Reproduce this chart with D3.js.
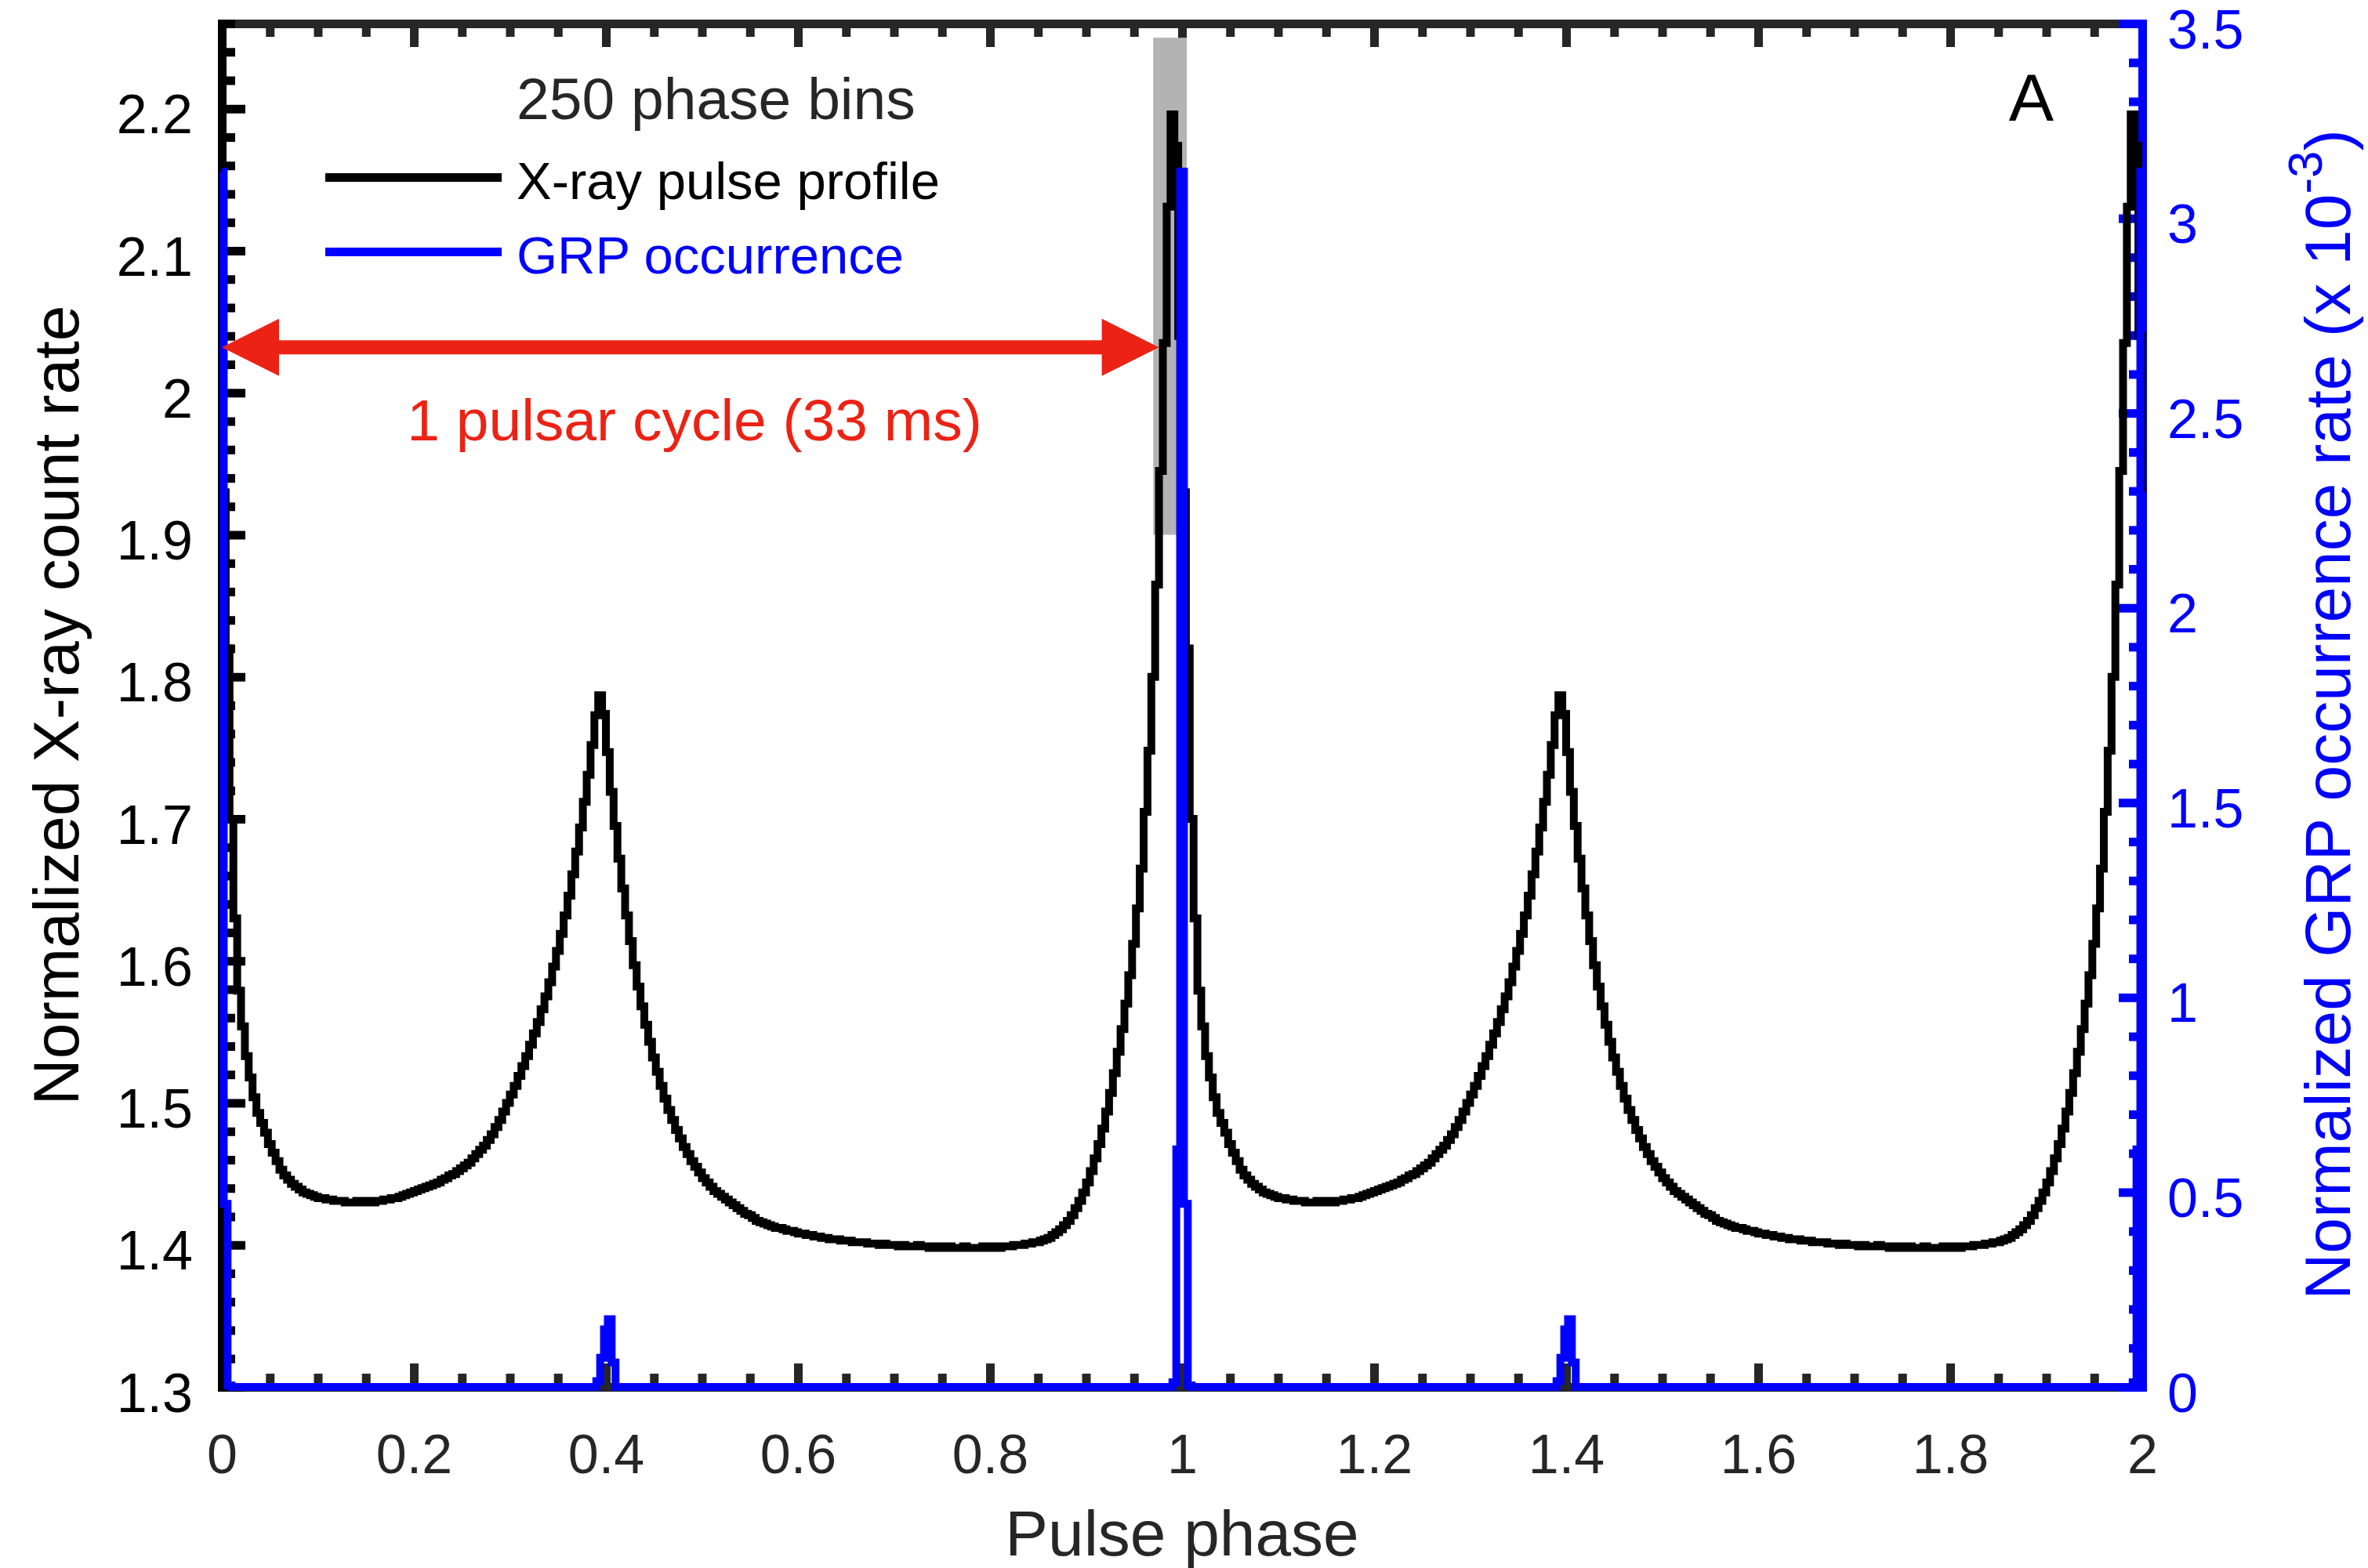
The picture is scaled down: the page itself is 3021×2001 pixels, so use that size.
<!DOCTYPE html>
<html><head><meta charset="utf-8">
<script src="https://cdn.jsdelivr.net/npm/d3@7"></script>
<style>
body{margin:0;background:#fff;}
svg{display:block;}
text{font-family:"Liberation Sans",Arial,Helvetica,sans-serif;}
</style>
</head><body>
<svg id="chart" width="3021" height="2001"></svg>
<script>
// ---------------- data ----------------
const binsPerCycle = 250;
const cycles = 2;
// Normalized X-ray count rate, bin k covers phase [k/250,(k+1)/250]
const xrayProfile = [
1.930,1.820,1.700,1.630,1.579,1.554,1.533,1.518,1.504,1.493,
1.486,1.479,1.471,1.465,1.459,1.453,1.449,1.446,1.443,1.441,
1.439,1.437,1.436,1.435,1.434,1.433,1.433,1.432,1.432,1.431,
1.431,1.431,1.430,1.430,1.430,1.431,1.430,1.430,1.431,1.430,
1.431,1.431,1.432,1.432,1.433,1.433,1.434,1.435,1.436,1.437,
1.438,1.439,1.440,1.441,1.442,1.443,1.444,1.446,1.447,1.449,
1.450,1.452,1.454,1.456,1.458,1.461,1.464,1.467,1.470,1.474,
1.478,1.483,1.488,1.494,1.500,1.506,1.512,1.519,1.526,1.533,
1.541,1.549,1.557,1.566,1.575,1.585,1.596,1.607,1.619,1.632,
1.646,1.661,1.677,1.694,1.712,1.731,1.752,1.773,1.787,1.774,
1.747,1.719,1.695,1.672,1.651,1.632,1.614,1.597,1.582,1.568,
1.555,1.543,1.532,1.522,1.512,1.503,1.495,1.488,1.481,1.475,
1.469,1.464,1.459,1.455,1.451,1.447,1.444,1.441,1.438,1.436,
1.434,1.432,1.430,1.428,1.426,1.424,1.422,1.421,1.419,1.417,
1.416,1.415,1.414,1.413,1.412,1.412,1.411,1.410,1.410,1.409,
1.408,1.408,1.407,1.407,1.406,1.406,1.405,1.405,1.404,1.404,
1.404,1.403,1.403,1.403,1.402,1.402,1.402,1.402,1.401,1.401,
1.401,1.400,1.401,1.400,1.400,1.400,1.399,1.400,1.399,1.399,
1.399,1.400,1.399,1.399,1.398,1.399,1.399,1.398,1.398,1.399,
1.398,1.398,1.398,1.399,1.398,1.398,1.398,1.398,1.399,1.398,
1.398,1.399,1.398,1.399,1.399,1.399,1.400,1.400,1.400,1.401,
1.401,1.402,1.402,1.403,1.404,1.405,1.407,1.409,1.411,1.414,
1.417,1.421,1.426,1.431,1.437,1.444,1.452,1.461,1.471,1.482,
1.494,1.507,1.521,1.536,1.552,1.570,1.590,1.612,1.637,1.665,
1.705,1.748,1.800,1.865,1.945,2.035,2.131,2.196,2.174,2.040
];
// Normalized GRP occurrence rate (x 1e-3), bin k centred on phase k/250
const grpOccurrence = [
3.120,0.470,0.004,0,0,0,0,0,0,0,
0,0,0,0,0,0,0,0,0,0,
0,0,0,0,0,0,0,0,0,0,
0,0,0,0,0,0,0,0,0,0,
0,0,0,0,0,0,0,0,0,0,
0,0,0,0,0,0,0,0,0,0,
0,0,0,0,0,0,0,0,0,0,
0,0,0,0,0,0,0,0,0,0,
0,0,0,0,0,0,0,0,0,0,
0,0,0,0,0,0,0,0,0.015,0.075,
0.148,0.174,0.063,0,0,0,0,0,0,0,
0,0,0,0,0,0,0,0,0,0,
0,0,0,0,0,0,0,0,0,0,
0,0,0,0,0,0,0,0,0,0,
0,0,0,0,0,0,0,0,0,0,
0,0,0,0,0,0,0,0,0,0,
0,0,0,0,0,0,0,0,0,0,
0,0,0,0,0,0,0,0,0,0,
0,0,0,0,0,0,0,0,0,0,
0,0,0,0,0,0,0,0,0,0,
0,0,0,0,0,0,0,0,0,0,
0,0,0,0,0,0,0,0,0,0,
0,0,0,0,0,0,0,0,0,0,
0,0,0,0,0,0,0,0,0,0,
0,0,0,0,0,0,0,0,0.012,0.610
];
const xDomain = [0, 2];
const yLeftDomain = [1.3, 2.26];
const yRightDomain = [0, 3.5];
const xTicks = [0,0.2,0.4,0.6,0.8,1,1.2,1.4,1.6,1.8,2];
const xTickLabels = ["0","0.2","0.4","0.6","0.8","1","1.2","1.4","1.6","1.8","2"];
const yLeftTicks = [1.3,1.4,1.5,1.6,1.7,1.8,1.9,2.0,2.1,2.2];
const yLeftTickLabels = ["1.3","1.4","1.5","1.6","1.7","1.8","1.9","2","2.1","2.2"];
const yRightTicks = [0,0.5,1,1.5,2,2.5,3,3.5];
const yRightTickLabels = ["0","0.5","1","1.5","2","2.5","3","3.5"];
const xMinorStep = 0.05, yLeftMinorStep = 0.02, yRightMinorStep = 0.1;
const legendTitle = "250 phase bins";
const seriesNames = ["X-ray pulse profile", "GRP occurrence"];
const highlightPhase = [0.970, 1.005];
const highlightLevel = [1.90, 2.25];
const arrowPhase = [0.0, 0.976];
const arrowLevel = 2.032;
const arrowText = "1 pulsar cycle (33 ms)";
const panelLabel = "A";
const xLabel = "Pulse phase";
const yLeftLabel = "Normalized X-ray count rate";
const yRightLabel = ["Normalized GRP occurrence rate (x 10", "-3", ")"];

// ---------------- layout / style ----------------
const svg = d3.select("#chart");
const P = {left:283, right:2733, top:30, bottom:1770};
const C = {black:"#000000", gray:"#262626", blue:"#0000ff", red:"#ec2214", box:"#b3b3b3"};
const AX_W = 11, LINE_W = 10, MAJ = 30, MIN = 17;
const TICK_FS = 70, LABEL_FS = 82;

const x = d3.scaleLinear().domain(xDomain).range([P.left, P.right]);
const yL = d3.scaleLinear().domain(yLeftDomain).range([P.bottom, P.top]);
const yR = d3.scaleLinear().domain(yRightDomain).range([P.bottom, P.top]);

function minorVals(domain, step, majors){
  const out=[]; const n=Math.round((domain[1]-domain[0])/step);
  for(let i=0;i<=n;i++){ const v=+(domain[0]+i*step).toFixed(6); if(v<=domain[1]+1e-9 && !majors.some(m=>Math.abs(m-v)<1e-9)) out.push(v); }
  return out;
}
function styleAxis(g,color){
  g.selectAll(".tick line").attr("stroke",color).attr("stroke-width",AX_W);
  g.select(".domain").attr("stroke",color).attr("stroke-width",AX_W).attr("stroke-linecap","square");
  g.selectAll("text").attr("fill",color).style("font-size",TICK_FS+"px").attr("font-family",null);
}

const axesG = svg.append("g");
// top axis
const gTop = axesG.append("g").attr("transform",`translate(0,${P.top})`)
  .call(d3.axisTop(x).tickValues(xTicks).tickSize(-MAJ).tickSizeOuter(0).tickFormat(""));
styleAxis(gTop,C.gray);
const gTopMin = axesG.append("g").attr("transform",`translate(0,${P.top})`)
  .call(d3.axisTop(x).tickValues(minorVals(xDomain,xMinorStep,xTicks)).tickSize(-MIN).tickSizeOuter(0).tickFormat(""));
styleAxis(gTopMin,C.gray); gTopMin.select(".domain").remove();
// bottom axis
const gBot = axesG.append("g").attr("transform",`translate(0,${P.bottom})`)
  .call(d3.axisBottom(x).tickValues(xTicks).tickSize(-MAJ).tickSizeOuter(0).tickFormat((d,i)=>xTickLabels[i]));
styleAxis(gBot,C.gray);
gBot.selectAll("text").attr("y",110).attr("dy",null);
const gBotMin = axesG.append("g").attr("transform",`translate(0,${P.bottom})`)
  .call(d3.axisBottom(x).tickValues(minorVals(xDomain,xMinorStep,xTicks)).tickSize(-MIN).tickSizeOuter(0).tickFormat(""));
styleAxis(gBotMin,C.gray); gBotMin.select(".domain").remove();
// left axis
const gLeft = axesG.append("g").attr("transform",`translate(${P.left},0)`)
  .call(d3.axisLeft(yL).tickValues(yLeftTicks).tickSize(-MAJ).tickSizeOuter(0).tickFormat((d,i)=>yLeftTickLabels[i]));
styleAxis(gLeft,C.black);
gLeft.selectAll("text").attr("x",-37).attr("dy",31);
const gLeftMin = axesG.append("g").attr("transform",`translate(${P.left},0)`)
  .call(d3.axisLeft(yL).tickValues(minorVals(yLeftDomain,yLeftMinorStep,yLeftTicks)).tickSize(-MIN).tickSizeOuter(0).tickFormat(""));
styleAxis(gLeftMin,C.black); gLeftMin.select(".domain").remove();
// right axis
const gRight = axesG.append("g").attr("transform",`translate(${P.right},0)`)
  .call(d3.axisRight(yR).tickValues(yRightTicks).tickSize(-MAJ).tickSizeOuter(0).tickFormat((d,i)=>yRightTickLabels[i]));
styleAxis(gRight,C.blue);
gRight.selectAll("text").attr("x",32).attr("dy",31);
const gRightMin = axesG.append("g").attr("transform",`translate(${P.right},0)`)
  .call(d3.axisRight(yR).tickValues(minorVals(yRightDomain,yRightMinorStep,yRightTicks)).tickSize(-MIN).tickSizeOuter(0).tickFormat(""));
styleAxis(gRightMin,C.blue); gRightMin.select(".domain").remove();

// highlight box
svg.append("rect")
  .attr("x",x(highlightPhase[0])).attr("width",x(highlightPhase[1])-x(highlightPhase[0]))
  .attr("y",yL(highlightLevel[1])).attr("height",yL(highlightLevel[0])-yL(highlightLevel[1]))
  .attr("fill",C.box);

// X-ray stairs
const xrayPts = [];
for(let c=0;c<cycles;c++) xrayProfile.forEach((v,k)=>xrayPts.push([c+k/binsPerCycle, v]));
xrayPts.push([cycles, xrayProfile[0]]);
svg.append("path").datum(xrayPts)
  .attr("d", d3.line().x(d=>x(d[0])).y(d=>yL(d[1])).curve(d3.curveStepAfter))
  .attr("fill","none").attr("stroke",C.black).attr("stroke-width",LINE_W).attr("stroke-linejoin","miter");

// GRP stairs (bins centred on k/250)
const grpPts = [[0, grpOccurrence[0]]];
for(let c=0;c<cycles;c++) grpOccurrence.forEach((v,k)=>{
  grpPts.push([c+(k+0.5)/binsPerCycle, grpOccurrence[(k+1)%binsPerCycle]]);
});
grpPts.push([cycles, grpOccurrence[0]]);
svg.append("path").datum(grpPts)
  .attr("d", d3.line().x(d=>x(d[0])).y(d=>yR(d[1])).curve(d3.curveStepAfter))
  .attr("fill","none").attr("stroke",C.blue).attr("stroke-width",LINE_W).attr("stroke-linejoin","miter");

// double arrow
const ay = yL(arrowLevel), ax0 = x(arrowPhase[0]), ax1 = x(arrowPhase[1]);
const headL = 73, headH = 36.5, shaftW = 18;
svg.append("rect").attr("x",ax0+headL-1).attr("y",ay-shaftW/2).attr("width",ax1-ax0-2*headL+2).attr("height",shaftW).attr("fill",C.red);
svg.append("path").attr("d",`M${ax0},${ay}L${ax0+headL},${ay-headH}L${ax0+headL},${ay+headH}Z`).attr("fill",C.red);
svg.append("path").attr("d",`M${ax1},${ay}L${ax1-headL},${ay-headH}L${ax1-headL},${ay+headH}Z`).attr("fill",C.red);
svg.append("text").attr("x",886).attr("y",ay+119).attr("text-anchor","middle")
  .attr("fill",C.red).style("font-size","75px").text(arrowText);

// legend
svg.append("text").attr("x",659).attr("y",152).attr("fill",C.gray).style("font-size","75px").text(legendTitle);
const legY = [226.5, 321.5], legCol = [C.black, C.blue];
seriesNames.forEach((s,i)=>{
  svg.append("line").attr("x1",415).attr("x2",640).attr("y1",legY[i]).attr("y2",legY[i])
    .attr("stroke",legCol[i]).attr("stroke-width",LINE_W+1);
  svg.append("text").attr("x",659).attr("y",legY[i]+27).attr("fill",legCol[i]).style("font-size","67px").text(s);
});

// panel label
svg.append("text").attr("x",2620).attr("y",154).attr("text-anchor","end").attr("fill",C.black)
  .style("font-size","86px").text(panelLabel);

// axis labels
svg.append("text").attr("x",(P.left+P.right)/2).attr("y",1985).attr("text-anchor","middle")
  .attr("fill",C.gray).style("font-size",LABEL_FS+"px").text(xLabel);
svg.append("text").attr("transform",`translate(100,${(P.top+P.bottom)/2}) rotate(-90)`)
  .attr("text-anchor","middle").attr("fill",C.black).style("font-size",LABEL_FS+"px").text(yLeftLabel);
const rl = svg.append("text").attr("transform",`translate(2998,912) rotate(-90)`)
  .attr("text-anchor","middle").attr("fill",C.blue).style("font-size",LABEL_FS+"px");
rl.append("tspan").text(yRightLabel[0]);
rl.append("tspan").attr("dy",-36).style("font-size","62px").text(yRightLabel[1]);
rl.append("tspan").attr("dy",36).text(yRightLabel[2]);
</script>
</body></html>
